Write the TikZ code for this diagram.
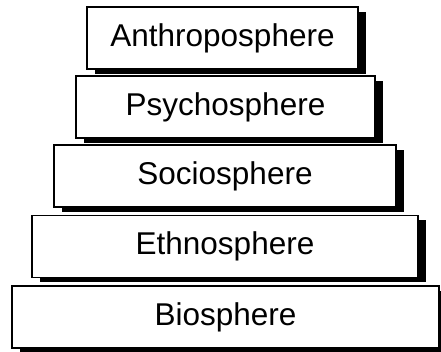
\documentclass[tikz,border=0pt]{standalone}
\usepackage{fontspec}
\setmainfont{Liberation Sans}
\usetikzlibrary{shadows}
\tikzset{
    sphere/.style={draw, line width=1.5pt, fill=white, inner sep=0pt,
        minimum height=62pt, font=\fontsize{31.5}{36}\selectfont,
        drop shadow={shadow xshift=8pt, shadow yshift=-5pt, fill=black, opacity=1}}
}

\begin{document}
\begin{tikzpicture}[x=1pt,y=1pt]
            \useasboundingbox (0,0) rectangle (441,352);
            \node[sphere, minimum width=271pt] (anthro) at (222.5,314) {Anthroposphere};
            \node[sphere, minimum width=299pt] (psycho) at (225.5,245) {Psychosphere};
            \node[sphere, minimum width=342pt] (socio) at (225,176) {Sociosphere};
            \node[sphere, minimum width=386pt] (ethno) at (225,105.5) {Ethnosphere};
            \node[sphere, minimum width=427pt] (bio) at (225.5,35) {Biosphere};
        \end{tikzpicture}
\end{document}
